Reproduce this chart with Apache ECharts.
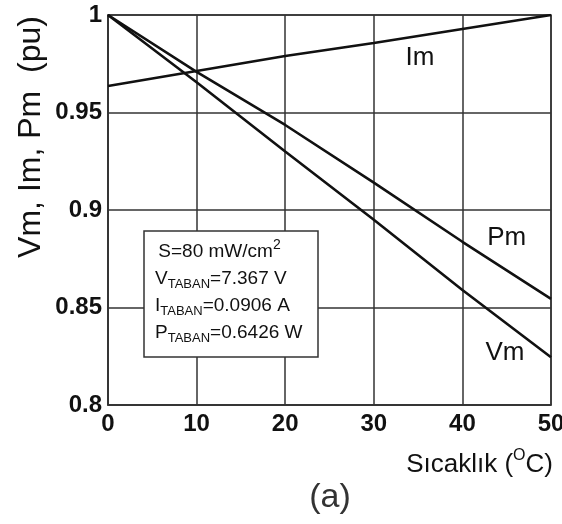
<!DOCTYPE html>
<html>
<head>
<meta charset="utf-8">
<script src="https://cdn.jsdelivr.net/npm/echarts@6/dist/echarts.min.js"></script>
<style>
  html, body { margin: 0; padding: 0; background: #fff; }
  #chart { width: 562px; height: 524px; }
</style>
</head>
<body>
<div id="chart"></div>
<script>
// temperature (deg C)
var temps = [0, 10, 20, 30, 40, 50];
// normalised values (pu)
var vmValues = [1, 0.9655, 0.930, 0.895, 0.859, 0.8245];
var imValues = [0.9636, 0.9713, 0.979, 0.9856, 0.9928, 1];
var pmValues = [1, 0.9708, 0.9436, 0.914, 0.8837, 0.8544];
var yTicks = [0.8, 0.85, 0.9, 0.95, 1];
var xTicks = [0, 10, 20, 30, 40, 50];

function pairs(xs, ys) {
  return xs.map(function (x, i) { return [x, ys[i]]; });
}

var chart = echarts.init(document.getElementById("chart"));

var lineStyle = { color: "#111", width: 2.6 };

function tag(name, coord) {
  return {
    symbol: "circle",
    symbolSize: 1,
    silent: true,
    itemStyle: { color: "rgba(0,0,0,0)" },
    label: {
      show: true,
      formatter: name,
      position: "inside",
      fontFamily: "Liberation Sans, Arial",
      fontSize: 26,
      color: "#111",
    },
    data: [{ coord: coord }],
  };
}

var tickFont = {
  fontFamily: "Liberation Sans, Arial",
  fontWeight: "bold",
  fontSize: 24,
  color: "#111",
};

var option = {
  animation: false,
  backgroundColor: "#fff",
  grid: {
    left: 108, right: 11, top: 15, bottom: 119,
    outerBoundsMode: "none",
    show: true, borderColor: "#333", borderWidth: 1.5,
  },
  xAxis: {
    type: "value",
    min: 0,
    max: 50,
    interval: 10,
    axisLine: { show: true, lineStyle: { color: "#333", width: 1.5 } },
    axisTick: { show: false },
    splitLine: { show: true, lineStyle: { color: "#333", width: 1.5 } },
    axisLabel: Object.assign({
      margin: 7,
      hideOverlap: false,
      formatter: function (v) { return xTicks.indexOf(v) >= 0 ? String(v) : ""; },
    }, tickFont),
  },
  yAxis: {
    type: "value",
    min: 0.8,
    max: 1,
    interval: 0.05,
    axisLine: { show: true, lineStyle: { color: "#333", width: 1.5 } },
    axisTick: { show: false },
    splitLine: { show: true, lineStyle: { color: "#333", width: 1.5 } },
    axisLabel: Object.assign({
      margin: 6,
      formatter: function (v) {
        var t = yTicks.find(function (k) { return Math.abs(k - v) < 1e-6; });
        return t === undefined ? "" : String(t);
      },
    }, tickFont),
  },
  series: [
    {
      name: "Vm",
      type: "line",
      data: pairs(temps, vmValues),
      symbol: "none",
      lineStyle: lineStyle,
      z: 3,
      markPoint: tag("Vm", [44.8, 0.8267]),
    },
    {
      name: "Im",
      type: "line",
      data: pairs(temps, imValues),
      symbol: "none",
      lineStyle: lineStyle,
      z: 3,
      markPoint: tag("Im", [35.2, 0.978]),
    },
    {
      name: "Pm",
      type: "line",
      data: pairs(temps, pmValues),
      symbol: "none",
      lineStyle: lineStyle,
      z: 3,
      markPoint: tag("Pm", [45, 0.8856]),
    },
  ],
  graphic: [
    {
      type: "text",
      x: 31,
      y: 137,
      rotation: Math.PI / 2,
      style: {
        text: "Vm, Im, Pm  (pu)",
        fontFamily: "Liberation Sans, Arial",
        fontSize: 32,
        fill: "#111",
        align: "center",
        verticalAlign: "middle",
      },
    },
    {
      type: "text",
      x: 553,
      y: 463,
      style: {
        text: "{n|Sıcaklık (}{sup|O}{n|C)}",
        align: "right",
        verticalAlign: "middle",
        rich: {
          n: { fontFamily: "Liberation Sans, Arial", fontSize: 26, fill: "#111", lineHeight: 30, verticalAlign: "bottom" },
          sup: { fontFamily: "Liberation Sans, Arial", fontSize: 16, fill: "#111", lineHeight: 30, verticalAlign: "top" },
        },
      },
    },
    {
      type: "text",
      x: 330,
      y: 498,
      style: {
        text: "(a)",
        fontFamily: "Liberation Sans, Arial",
        fontSize: 34,
        fill: "#333",
        align: "center",
        verticalAlign: "middle",
      },
    },
    {
      type: "rect",
      z: 10,
      shape: { x: 144, y: 231, width: 174, height: 126 },
      style: { fill: "#fff", stroke: "#333", lineWidth: 1.5 },
    },
    {
      type: "text",
      z: 11,
      x: 155,
      y: 238,
      style: {
        text: [
          " {n|S=80 mW/cm}{sup|2}",
          "{n|V}{sub|TABAN}{n|=7.367 V}",
          "{n|I}{sub|TABAN}{n|=0.0906 A}",
          "{n|P}{sub|TABAN}{n|=0.6426 W}",
        ].join("\n"),
        align: "left",
        verticalAlign: "top",
        rich: {
          n: { fontFamily: "Liberation Sans, Arial", fontSize: 19, fill: "#111", lineHeight: 27, verticalAlign: "middle" },
          sub: { fontFamily: "Liberation Sans, Arial", fontSize: 13, fill: "#111", lineHeight: 27, verticalAlign: "bottom", padding: [0, 0, 1, 0] },
          sup: { fontFamily: "Liberation Sans, Arial", fontSize: 14, fill: "#111", lineHeight: 27, verticalAlign: "top" },
        },
      },
    },
  ],
};

chart.setOption(option);
</script>
</body>
</html>
